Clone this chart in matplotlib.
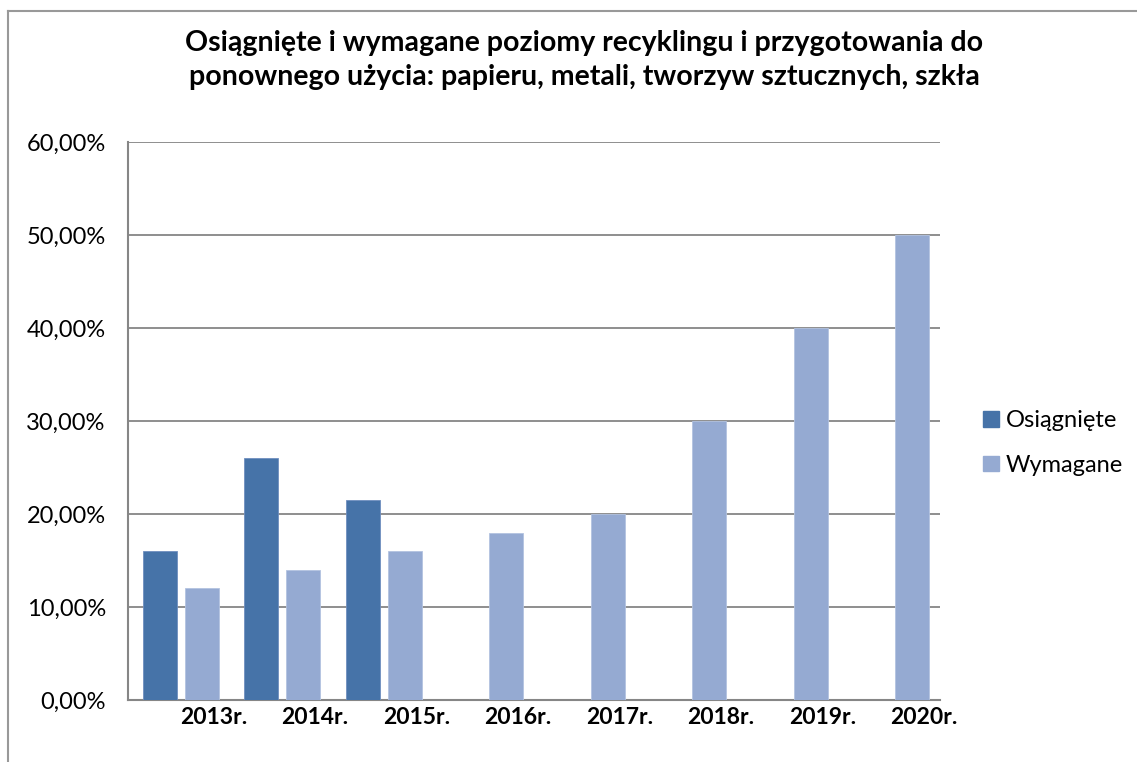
import numpy as np
import matplotlib.pyplot as plt
from matplotlib.lines import Line2D
from matplotlib.patches import Patch

lata = ['2013r.', '2014r.', '2015r.', '2016r.', '2017r.', '2018r.', '2019r.', '2020r.']
osiagniete = [16.0, 26.0, 21.5]
wymagane = [12.0, 14.0, 16.0, 18.0, 20.0, 30.0, 40.0, 50.0]

c_osi = '#4673a8'
c_wym = '#95aad2'
szary = '#868686'

plt.rcParams['font.family'] = ['Lato', 'DejaVu Sans']

fig = plt.figure(figsize=(11.37, 7.62), dpi=100)
ax = fig.add_axes([128 / 1137, 1 - 700 / 762, 812 / 1137, 558 / 762])

x = np.arange(len(lata))
szer = 0.335
ax.bar(x[:len(osiagniete)] - 0.185, osiagniete, width=szer, color=c_osi,
       edgecolor='#6f8fbf', linewidth=0.6, zorder=3)
ax.bar(x + 0.225, wymagane, width=szer, color=c_wym,
       edgecolor='#b3c3e0', linewidth=0.6, zorder=3)

ax.set_xlim(-0.5, 7.5)
ax.set_ylim(0, 60)
ax.set_yticks(np.arange(0, 61, 10))
ax.set_yticklabels([f'{v:.2f}%'.replace('.', ',') for v in range(0, 61, 10)], fontsize=17)
ax.set_xticks(x + 0.34)
ax.set_xticklabels(lata, fontsize=16.5, fontweight='bold')
ax.tick_params(axis='both', length=0)
ax.tick_params(axis='y', pad=16)
ax.tick_params(axis='x', pad=5)

ax.grid(axis='y', color=szary, linewidth=1.3, zorder=0)
for s in ['top', 'right']:
    ax.spines[s].set_visible(False)
for s in ['left', 'bottom']:
    ax.spines[s].set_color(szary)
    ax.spines[s].set_linewidth(1.5)

fig.text(0.514, 1 - 60 / 762,
         'Osiągnięte i wymagane poziomy recyklingu i przygotowania do\n'
         'ponownego użycia: papieru, metali, tworzyw sztucznych, szkła',
         ha='center', va='center', fontsize=20.5, fontweight='bold', linespacing=1.35)

uchwyty = [Patch(color=c_osi), Patch(color=c_wym)]
fig.legend(uchwyty, ['Osiągnięte', 'Wymagane'], loc='center left',
           bbox_to_anchor=(962 / 1137, 1 - 443 / 762), frameon=False,
           fontsize=17, handlelength=0.65, handleheight=0.65, handletextpad=0.3,
           labelspacing=1.0)

# ramka wykresu
fig.add_artist(Line2D([8 / 1137, 1.0], [1 - 11 / 762, 1 - 11 / 762],
                      color='#999999', linewidth=1.5, transform=fig.transFigure))
fig.add_artist(Line2D([8 / 1137, 8 / 1137], [1 - 11 / 762, 0.0],
                      color='#999999', linewidth=1.5, transform=fig.transFigure))

fig.savefig('out.png', dpi=100)
